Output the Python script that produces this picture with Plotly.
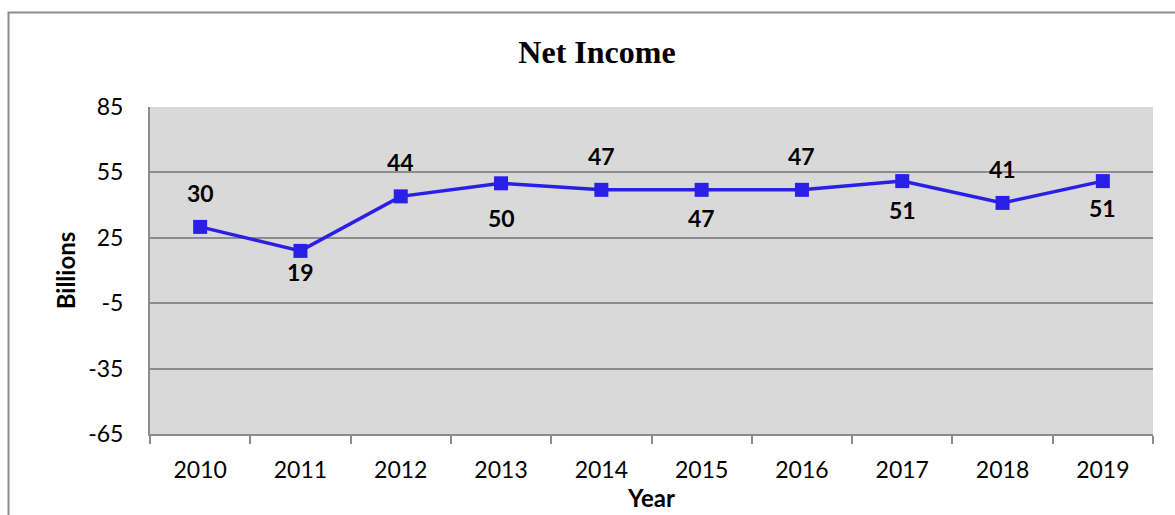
import plotly.graph_objects as go

years = ["2010", "2011", "2012", "2013", "2014", "2015", "2016", "2017", "2018", "2019"]
net_income = [30, 19, 44, 50, 47, 47, 47, 51, 41, 51]
y_ticks = [-65, -35, -5, 25, 55, 85]

# vertical pixel offsets of the data labels (placement only)
label_dy = [34, -21, 34, -35, 34, -28, 34, -29, 34, -27]

W, H = 1175, 515
L, R, T, B = 150, 22, 107, 81

fig = go.Figure()
fig.add_trace(go.Scatter(
    x=years, y=net_income, mode="lines+markers",
    line=dict(color="#2a1fe6", width=3.5),
    marker=dict(symbol="square", size=14, color="#2a1fe6"),
    hoverinfo="x+y", showlegend=False,
))

for i, (v, dy) in enumerate(zip(net_income, label_dy)):
    fig.add_annotation(
        x=i, y=v, text="<b>%d</b>" % v, showarrow=False,
        yshift=dy,
        font=dict(family="Lato", size=23, color="#000000"),
    )

fig.update_layout(
    width=W, height=H,
    margin=dict(l=L, r=R, t=T, b=B, autoexpand=False),
    paper_bgcolor="white",
    plot_bgcolor="#d9d9d9",
    title=dict(text="<b>Net Income</b>", x=597 / W, xanchor="center",
               y=1 - 52 / H, yanchor="middle",
               font=dict(family="Liberation Serif", size=32, color="#000000")),
    xaxis=dict(
        type="category", range=[-0.5, 9.5], automargin=False,
        showgrid=False, showline=True, linecolor="#8c8c8c", linewidth=2,
        ticks="outside", tickson="boundaries", ticklen=8, tickcolor="#8c8c8c", tickwidth=2,
        ticklabelstandoff=14,
        tickfont=dict(family="Lato", size=23, color="#000000"),
        title=dict(text="<b>Year</b>", standoff=8,
                   font=dict(family="Lato", size=24, color="#000000")),
    ),
    yaxis=dict(
        range=[-65, 85], tickvals=y_ticks, ticktext=[str(t) for t in y_ticks],
        automargin=False,
        showgrid=True, gridcolor="#8c8c8c", gridwidth=2,
        showline=True, linecolor="#8c8c8c", linewidth=2,
        zeroline=False, ticks="", ticklabelstandoff=20,
        tickfont=dict(family="Lato", size=23, color="#000000"),
        title=dict(text="<b>Billions</b>", standoff=6,
                   font=dict(family="Lato", size=24, color="#000000")),
    ),
    shapes=[dict(type="rect", xref="paper", yref="paper",
                 x0=-(L - 8.5) / (W - L - R), x1=1 + (R + 20) / (W - L - R),
                 y0=-(B + 20) / (H - T - B), y1=1 + (T - 12.5) / (H - T - B),
                 line=dict(color="#8c8c8c", width=2), layer="below")],
)

fig.write_html("out.html", config={"displayModeBar": False},
               post_script="document.body.style.margin='0';document.body.style.overflow='hidden';")
